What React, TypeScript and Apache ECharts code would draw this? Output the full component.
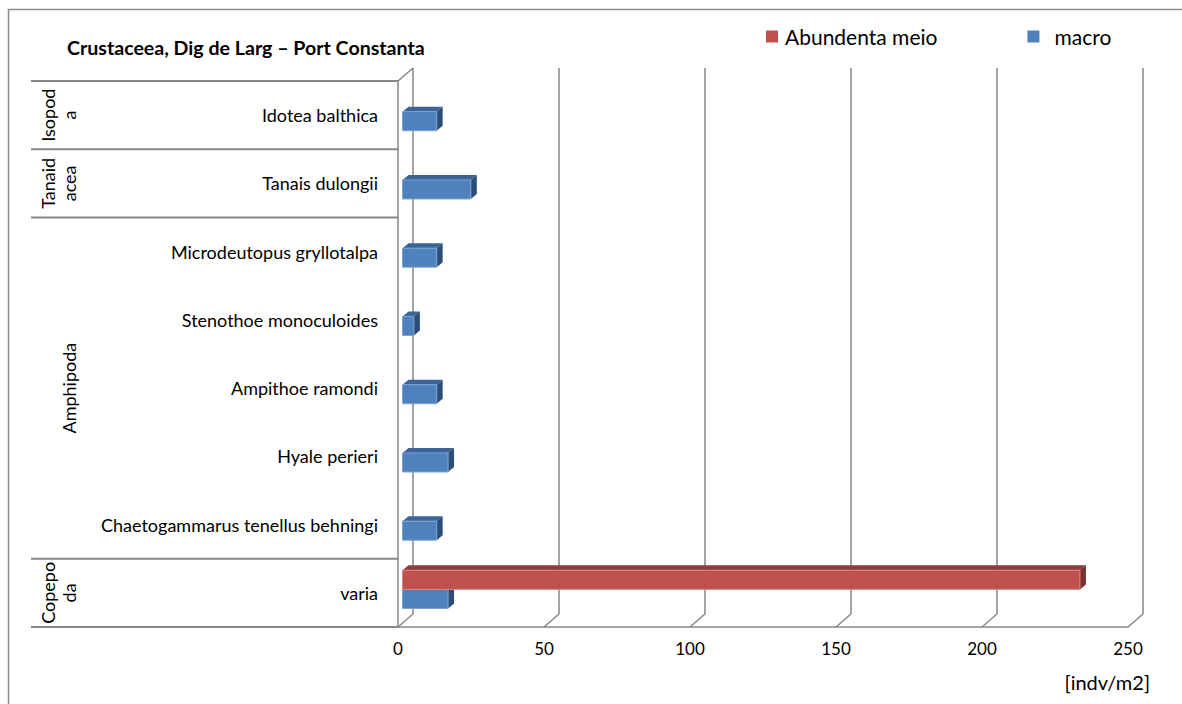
import React, { useEffect, useRef } from "react";
import * as echarts from "echarts";

// Species, bottom to top
const categories = [
  "varia",
  "Chaetogammarus tenellus behningi",
  "Hyale perieri",
  "Ampithoe ramondi",
  "Stenothoe monoculoides",
  "Microdeutopus gryllotalpa",
  "Tanais dulongii",
  "Idotea balthica",
];
const meioValues = [232, 0, 0, 0, 0, 0, 0, 0];
const macroValues = [15.6, 11.7, 15.6, 11.7, 3.9, 11.7, 23.4, 11.7];

// Taxonomic groups spanning the species rows (first and last row index)
const groupNames = ["Copepo\nda", "Amphipoda", "Tanaid\nacea", "Isopod\na"];
const groupFirst = [0, 1, 6, 7];
const groupLast = [0, 5, 6, 7];

const tickValues = [0, 50, 100, 150, 200, 250];
const X_MAX = 250;
const X_STEP = 50;

const TITLE = "Crustaceea, Dig de Larg \u2013 Port Constanta";
const UNIT = "[indv/m2]";
const SERIES_MEIO = "Abundenta meio";
const SERIES_MACRO = "macro";

const FONT = "Lato, 'Liberation Sans', sans-serif";

// Oblique depth of the 3-D box (front plane -> back wall)
const DX = 15;
const DY = -13;
// Bars sit a little behind the front plane and have their own depth
const BAR_OFF_X = 4.5;
const BAR_OFF_Y = -3.5;
const BAR_DX = 6;
const BAR_DY = -5;

const GRID_LINE = "#868686";

type Palette = { front: string; top: string; side: string; edge: string };
const BLUE: Palette = { front: "#4F81BD", top: "#3B6496", side: "#2C4D77", edge: "#7EA3D2" };
const RED: Palette = { front: "#C0504D", top: "#8E3B39", side: "#7A302E", edge: "#D98886" };

function bar3d(slot: "upper" | "lower", pal: Palette) {
  return (_params: any, api: any) => {
    const v = api.value(0);
    const c = api.value(1);
    if (!v) return null;
    const a = api.coord([0, c]);
    const b = api.coord([v, c]);
    const band = api.size([0, 1])[1];
    const h = band * 0.28;
    const cy = a[1] + BAR_OFF_Y;
    const y0 = slot === "upper" ? cy - h : cy;
    const x0 = a[0] + BAR_OFF_X;
    const x1 = b[0] + BAR_OFF_X;
    return {
      type: "group",
      children: [
        {
          type: "polygon",
          shape: { points: [[x0, y0], [x1, y0], [x1 + BAR_DX, y0 + BAR_DY], [x0 + BAR_DX, y0 + BAR_DY]] },
          style: { fill: pal.top },
        },
        {
          type: "polygon",
          shape: { points: [[x1, y0], [x1 + BAR_DX, y0 + BAR_DY], [x1 + BAR_DX, y0 + h + BAR_DY], [x1, y0 + h]] },
          style: { fill: pal.side },
        },
        {
          type: "rect",
          shape: { x: x0, y: y0, width: x1 - x0, height: h },
          style: { fill: pal.front, stroke: pal.edge, lineWidth: 1 },
        },
      ],
    };
  };
}

export default function App() {
  const ref = useRef<HTMLDivElement>(null);

  useEffect(() => {
    if (!ref.current) return;
    const chart = echarts.init(ref.current, undefined, { renderer: "svg" });

    const option: any = {
      animation: false,
      backgroundColor: "#ffffff",
      title: {
        text: TITLE,
        left: 67,
        top: 37,
        padding: 0,
        textStyle: { fontFamily: FONT, fontSize: 19.6, fontWeight: "bold", color: "#000" },
      },
      legend: {
        data: [
          { name: SERIES_MEIO },
          { name: SERIES_MACRO, textStyle: { padding: [0, 0, 0, 10] } },
        ],
        left: 766,
        top: 26,
        padding: 0,
        icon: "rect",
        itemWidth: 12,
        itemHeight: 12,
        itemGap: 90,
        textStyle: { fontFamily: FONT, fontSize: 21, color: "#000", padding: [0, 0, 0, 2] },
      },
      grid: [
        // back wall
        { left: 413, right: 39, top: 68, bottom: 90 },
        // front plane
        { left: 398, right: 54, top: 81, bottom: 77 },
      ],
      xAxis: [
        {
          gridIndex: 0,
          type: "value",
          min: 0,
          max: X_MAX,
          interval: X_STEP,
          axisLine: { show: false },
          axisTick: { show: false },
          axisLabel: { show: false },
          splitLine: { show: true, lineStyle: { color: GRID_LINE, width: 1.5 } },
        },
        {
          gridIndex: 1,
          type: "value",
          min: 0,
          max: X_MAX,
          interval: X_STEP,
          axisLine: { show: true, lineStyle: { color: GRID_LINE, width: 1.5 } },
          axisTick: { show: false },
          axisLabel: { margin: 13, fontFamily: FONT, fontSize: 17, color: "#000" },
          splitLine: { show: false },
        },
      ],
      yAxis: [
        {
          gridIndex: 0,
          type: "category",
          data: categories,
          show: false,
        },
        {
          gridIndex: 1,
          type: "category",
          data: categories,
          axisLine: { show: true, lineStyle: { color: GRID_LINE, width: 1.5 } },
          axisTick: { show: false },
          axisLabel: { margin: 20, fontFamily: FONT, fontSize: 18, color: "#000" },
          splitLine: { show: false },
        },
      ],
      graphic: [
        {
          type: "rect",
          silent: true,
          shape: { x: 8.5, y: 9.5, width: 1300, height: 800 },
          style: { fill: "none", stroke: "#8c8c8c", lineWidth: 1.5 },
        },
        {
          type: "text",
          right: 1182 - 1150,
          top: 672,
          style: { text: UNIT, fontFamily: FONT, fontSize: 20, fill: "#000" },
        },
      ],
      series: [
        {
          // floor diagonals and the top-left wall edge
          type: "custom",
          xAxisIndex: 1,
          yAxisIndex: 1,
          silent: true,
          data: tickValues.map((t) => [t, 0]),
          encode: { x: 0, y: 1 },
          renderItem: (_p: any, api: any) => {
            const t = api.value(0);
            const band = api.size([0, 1])[1];
            const p = api.coord([t, 0]);
            const bottom = p[1] + band / 2;
            const children: any[] = [
              {
                type: "line",
                shape: { x1: p[0], y1: bottom, x2: p[0] + DX, y2: bottom + DY },
                style: { stroke: GRID_LINE, lineWidth: 1.5 },
              },
            ];
            if (t === 0) {
              const top = api.coord([0, categories.length - 1])[1] - band / 2;
              children.push({
                type: "line",
                shape: { x1: p[0], y1: top, x2: p[0] + DX, y2: top + DY },
                style: { stroke: GRID_LINE, lineWidth: 1.5 },
              });
            }
            return { type: "group", children };
          },
        },
        {
          // group table on the left
          type: "custom",
          xAxisIndex: 1,
          yAxisIndex: 1,
          silent: true,
          data: groupNames.map((_, i) => [0, groupFirst[i], groupLast[i], i]),
          encode: { x: 0, y: 1 },
          renderItem: (_p: any, api: any) => {
            const first = api.value(1);
            const last = api.value(2);
            const idx = api.value(3);
            const band = api.size([0, 1])[1];
            const axisX = api.coord([0, first])[0];
            const bottom = api.coord([0, first])[1] + band / 2;
            const top = api.coord([0, last])[1] - band / 2;
            const children: any[] = [
              {
                type: "line",
                shape: { x1: 31, y1: top, x2: axisX, y2: top },
                style: { stroke: GRID_LINE, lineWidth: 2 },
              },
              {
                type: "text",
                x: 79,
                y: (top + bottom) / 2,
                rotation: Math.PI / 2,
                style: {
                  text: groupNames[idx],
                  fontFamily: FONT,
                  fontSize: 18,
                  lineHeight: 21,
                  fill: "#000",
                  align: "center",
                  verticalAlign: "bottom",
                },
              },
            ];
            if (first === 0) {
              children.push({
                type: "line",
                shape: { x1: 31, y1: bottom, x2: axisX, y2: bottom },
                style: { stroke: GRID_LINE, lineWidth: 2 },
              });
            }
            return { type: "group", children };
          },
        },
        {
          name: SERIES_MACRO,
          type: "custom",
          xAxisIndex: 1,
          yAxisIndex: 1,
          itemStyle: { color: BLUE.front },
          data: macroValues.map((v, i) => [v, i]),
          encode: { x: 0, y: 1 },
          renderItem: bar3d("lower", BLUE),
        },
        {
          name: SERIES_MEIO,
          type: "custom",
          xAxisIndex: 1,
          yAxisIndex: 1,
          itemStyle: { color: RED.front },
          data: meioValues.map((v, i) => [v, i]),
          encode: { x: 0, y: 1 },
          renderItem: bar3d("upper", RED),
        },
      ],
    };

    chart.setOption(option);
    return () => chart.dispose();
  }, []);

  return (
    <div
      ref={ref}
      style={{ position: "fixed", left: 0, top: 0, width: 1182, height: 704, background: "#fff" }}
    />
  );
}
